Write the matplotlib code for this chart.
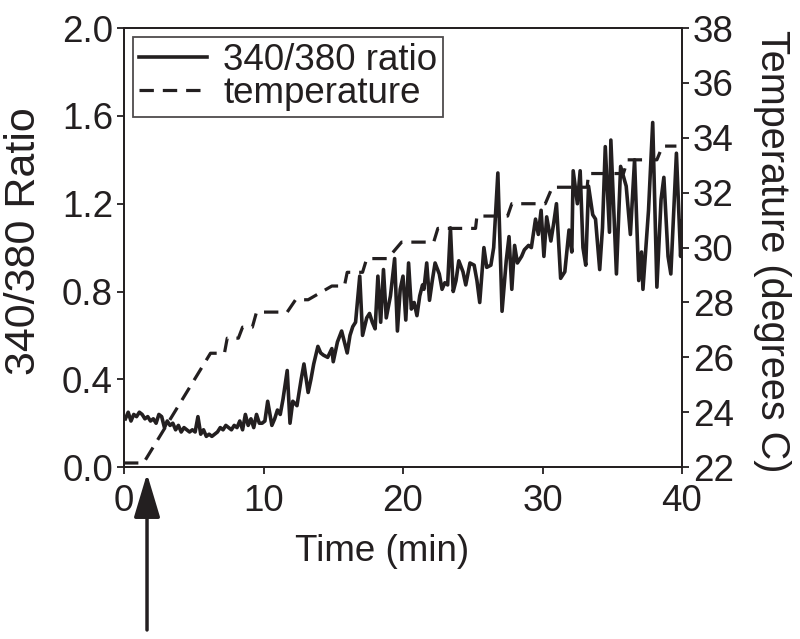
import matplotlib
matplotlib.use('Agg')
import matplotlib.pyplot as plt

plt.rcParams['font.family'] = ['Liberation Sans', 'DejaVu Sans']

# 340/380 ratio readings (time in min)
ratio_time = [0.1, 0.3, 0.5, 0.7, 0.9, 1.1, 1.3, 1.5, 1.7, 1.9, 2.1, 2.3, 2.5, 2.7, 2.9,
              3.1, 3.3, 3.5, 3.7, 3.9, 4.1, 4.3, 4.5, 4.7, 4.9, 5.1, 5.3, 5.5, 5.7, 5.9,
              6.1, 6.3, 6.5, 6.7, 6.9, 7.1, 7.3, 7.5, 7.7, 7.9, 8.1, 8.3, 8.5, 8.7, 8.9,
              9.1, 9.3, 9.5, 9.7, 9.9, 10.1, 10.3, 10.6, 10.8, 11.0, 11.2, 11.4, 11.7, 11.9,
              12.1, 12.4, 12.7, 12.9, 13.2, 13.4, 13.6, 13.9, 14.1, 14.3, 14.6, 14.9, 15.0,
              15.3, 15.6, 16.0, 16.2, 16.4, 16.6, 16.9, 17.1, 17.4, 17.6, 17.8, 18.0, 18.2,
              18.4, 18.6, 18.8, 19.1, 19.4, 19.6, 19.8, 20.0, 20.2, 20.4, 20.6, 20.8, 21.0,
              21.2, 21.4, 21.5, 21.7, 21.9, 22.1, 22.3, 22.6, 22.8, 23.0, 23.2, 23.4, 23.6,
              23.8, 24.0, 24.3, 24.5, 24.8, 25.1, 25.3, 25.5, 25.8, 26.0, 26.3, 26.5, 26.8,
              27.1, 27.4, 27.6, 27.8, 28.0, 28.2, 28.5, 28.7, 29.0, 29.2, 29.5, 29.7, 29.9,
              30.1, 30.3, 30.6, 30.8, 31.0, 31.3, 31.6, 31.9, 32.1, 32.2, 32.5, 32.7, 32.9,
              33.1, 33.3, 33.6, 33.8, 34.1, 34.3, 34.5, 34.8, 34.9, 35.1, 35.3, 35.6, 36.0,
              36.3, 36.6, 36.9, 37.1, 37.2, 37.6, 37.9, 38.2, 38.5, 38.7, 39.0, 39.2, 39.6,
              39.9, 40.0]
ratio = [0.22, 0.25, 0.21, 0.24, 0.23, 0.25, 0.24, 0.22, 0.23, 0.21, 0.22, 0.20, 0.24, 0.23, 0.18,
         0.21, 0.19, 0.20, 0.17, 0.19, 0.16, 0.18, 0.17, 0.16, 0.17, 0.16, 0.23, 0.15, 0.17, 0.14,
         0.15, 0.14, 0.15, 0.16, 0.18, 0.17, 0.19, 0.18, 0.17, 0.19, 0.18, 0.21, 0.17, 0.24, 0.19,
         0.22, 0.18, 0.24, 0.20, 0.20, 0.21, 0.30, 0.19, 0.22, 0.26, 0.24, 0.31, 0.44, 0.20,
         0.30, 0.28, 0.40, 0.47, 0.34, 0.40, 0.47, 0.55, 0.52, 0.51, 0.50, 0.54, 0.48,
         0.57, 0.62, 0.52, 0.60, 0.64, 0.66, 0.87, 0.60, 0.68, 0.70, 0.66, 0.63, 0.87,
         0.66, 0.90, 0.68, 0.78, 0.95, 0.62, 0.81, 0.87, 0.67, 0.93, 0.72, 0.75, 0.69,
         0.78, 0.83, 0.81, 0.93, 0.76, 0.85, 0.93, 0.88, 0.81, 0.84, 0.83, 1.09, 0.80,
         0.85, 0.94, 0.89, 0.83, 0.93, 0.92, 0.85, 0.75, 1.00, 0.91, 0.92, 1.00, 1.34,
         0.71, 0.94, 1.05, 0.81, 1.01, 0.93, 0.96, 0.99, 1.01, 1.00, 1.13, 1.06, 1.17,
         0.96, 1.14, 1.03, 1.11, 1.20, 0.86, 0.89, 1.08, 0.98, 1.35, 1.20, 1.35, 1.00,
         0.92, 1.28, 1.15, 1.13, 0.90, 1.09, 1.46, 1.07, 1.49, 1.19, 0.88, 1.37, 1.28,
         1.06, 1.40, 0.85, 0.98, 0.81, 1.17, 1.57, 0.82, 1.22, 1.32, 0.96, 0.88, 1.43,
         0.96, 1.12]

# temperature readings (degrees C)
temp_time = [0, 1.4, 6.2, 7.2, 7.4, 8.2, 8.5, 9.2, 9.5, 11.7, 12.3, 13.2, 14.9, 15.8, 16.0, 17.1,
             17.4, 18.9, 19.9, 22.2, 22.5, 25.2, 25.3, 27.5, 27.8, 30.2, 30.7, 33.2, 33.3, 35.8,
             36.1, 38.2, 38.6, 39.6]
temp = [22.15, 22.15, 26.15, 26.15, 26.7, 26.7, 27.1, 27.1, 27.65, 27.65, 28.1, 28.1, 28.6, 28.6,
        29.1, 29.1, 29.6, 29.6, 30.2, 30.2, 30.7, 30.7, 31.15, 31.15, 31.6, 31.6, 32.2, 32.2,
        32.7, 32.7, 33.2, 33.2, 33.7, 33.7]

ink = '#231f20'
fs = 26.5

fig = plt.figure(figsize=(8, 6.39), dpi=100)
ax = fig.add_axes([0.155, 0.269, 0.6975, 0.687])
ax2 = ax.twinx()

l1, = ax.plot(ratio_time, ratio, color=ink, lw=2.6, label='340/380 ratio')
l2, = ax2.plot(temp_time, temp, color=ink, lw=2.3, dashes=(4.5, 2.8), label='temperature')

ax.set_xlim(0, 40)
ax.set_ylim(0, 2.0)
ax2.set_ylim(22, 38)
ax.set_xticks([0, 10, 20, 30, 40])
ax.set_yticks([0.0, 0.4, 0.8, 1.2, 1.6, 2.0])
ax.set_yticklabels(['0.0', '0.4', '0.8', '1.2', '1.6', '2.0'])
ax2.set_yticks(range(22, 39, 2))

for a in (ax, ax2):
    for s in a.spines.values():
        s.set_color(ink)
        s.set_linewidth(1.3)
    a.tick_params(colors=ink, labelsize=fs, width=1.3, length=5, pad=3)
ax.tick_params(axis='x', pad=7)

ax.set_xlabel('Time (min)', fontsize=fs, color=ink)
ax.set_ylabel('340/380 Ratio', fontsize=31, color=ink)
ax2.set_ylabel('Temperature (degrees C)', fontsize=28.5, color=ink, rotation=-90)
ax.xaxis.set_label_coords(0.462, -0.152)
ax.yaxis.set_label_coords(-0.143, 0.515)
ax2.yaxis.set_label_coords(1.195, 0.492)

leg = ax.legend(handles=[l1, l2], loc='upper left', fontsize=fs, frameon=True, fancybox=False,
                handlelength=1.85, handletextpad=0.45, labelspacing=-0.05, borderpad=0.15,
                borderaxespad=0.25)
leg.get_frame().set_edgecolor(ink)
leg.get_frame().set_linewidth(1.3)
for t in leg.get_texts():
    t.set_color(ink)

# stimulus arrow under the axis
ax.annotate('', xy=(1.65, -0.015), xycoords=('data', 'axes fraction'),
            xytext=(1.65, -0.371), textcoords=('data', 'axes fraction'),
            arrowprops=dict(arrowstyle='-|>,head_length=1.0,head_width=0.3',
                            mutation_scale=27, color=ink, lw=2.5, shrinkA=0, shrinkB=0),
            annotation_clip=False)

fig.savefig('out.png', dpi=100)
